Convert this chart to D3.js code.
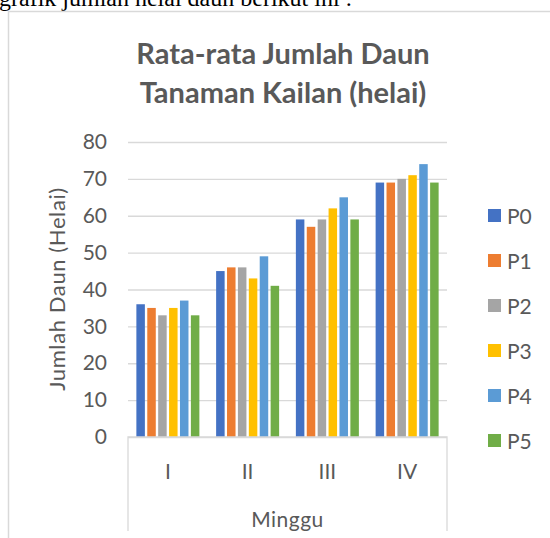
<!DOCTYPE html>
<html>
<head>
<meta charset="utf-8">
<script src="https://cdn.jsdelivr.net/npm/d3@7"></script>
<style>
  body { margin: 0; background: #fff; }
  svg { display: block; }
</style>
</head>
<body>
<div id="chart"></div>
<script>
// data
var weeks = ["I", "II", "III", "IV"];
var series = ["P0", "P1", "P2", "P3", "P4", "P5"];
var P0 = [36, 45, 59, 69];
var P1 = [35, 46, 57, 69];
var P2 = [33, 46, 59, 70];
var P3 = [35, 43, 62, 71];
var P4 = [37, 49, 65, 74];
var P5 = [33, 41, 59, 69];
var yTicks = [0, 10, 20, 30, 40, 50, 60, 70, 80];
var colors = ["#4472c4", "#ed7d31", "#a5a5a5", "#ffc000", "#5b9bd5", "#70ad47"];

var values = [P0, P1, P2, P3, P4, P5];
var font = "Lato, 'Open Sans', sans-serif";
var grey = "#595959";

var width = 550, height = 538;
var svg = d3.select("#chart")
  .append("svg")
    .attr("width", width)
    .attr("height", height);

// the line of document text cut off above the chart
svg.append("text")
  .attr("x", -1)
  .attr("y", 6)
  .style("font-family", "'Liberation Serif', 'Times New Roman', serif")
  .style("font-size", "24px")
  .style("fill", "#000")
  .text("grafik jumlah helai daun berikut ini :");

// chart frame
svg.append("path")
  .attr("d", "M8.5," + height + "V11.5H" + width)
  .attr("fill", "none")
  .attr("stroke", "#d9d9d9")
  .attr("stroke-width", 1.5);

// plot area
var plotLeft = 128, plotRight = 447, plotTop = 142, plotBottom = 437;

var y = d3.scaleLinear()
  .domain([0, 80])
  .range([plotBottom, plotTop]);

var x0 = d3.scaleBand()
  .domain(weeks)
  .range([plotLeft, plotRight])
  .paddingInner(0.21)
  .paddingOuter(0.105);

var x1 = d3.scaleBand()
  .domain(series)
  .range([0, x0.bandwidth()])
  .paddingInner(0.22);

// title
svg.append("text")
  .attr("x", 283)
  .attr("y", 64)
  .attr("text-anchor", "middle")
  .style("font-family", font)
  .style("font-size", "29px")
  .style("font-weight", "bold")
  .style("fill", grey)
  .text("Rata-rata Jumlah Daun");
svg.append("text")
  .attr("x", 283)
  .attr("y", 103)
  .attr("text-anchor", "middle")
  .style("font-family", font)
  .style("font-size", "29px")
  .style("font-weight", "bold")
  .style("fill", grey)
  .text("Tanaman Kailan (helai)");

// gridlines and y labels
var yAxis = svg.append("g")
  .attr("transform", "translate(" + plotLeft + ",0)")
  .call(d3.axisLeft(y).tickValues(yTicks).tickSize(-(plotRight - plotLeft)).tickPadding(21));
yAxis.select(".domain").remove();
yAxis.selectAll(".tick line")
  .attr("stroke", "#d9d9d9")
  .attr("stroke-width", 1.3);
yAxis.selectAll(".tick text")
  .style("font-family", font)
  .style("font-size", "21px")
  .style("fill", grey);

// y axis title
svg.append("text")
  .attr("transform", "translate(65,289) rotate(-90)")
  .attr("text-anchor", "middle")
  .style("font-family", font)
  .style("font-size", "22px")
  .style("letter-spacing", "0.6px")
  .style("fill", grey)
  .text("Jumlah Daun (Helai)");

// bars
var groups = svg.append("g")
  .selectAll("g")
  .data(weeks)
  .enter()
  .append("g")
    .attr("transform", function(d){ return "translate(" + x0(d) + ",0)"; });

groups.selectAll("rect")
  .data(function(d, i){ return series.map(function(s, j){ return { s: s, v: values[j][i], c: colors[j] }; }); })
  .enter()
  .append("rect")
    .attr("x", function(d){ return x1(d.s); })
    .attr("y", function(d){ return y(d.v); })
    .attr("width", x1.bandwidth())
    .attr("height", function(d){ return plotBottom - y(d.v); })
    .style("fill", function(d){ return d.c; });

// category axis box
svg.append("path")
  .attr("d", "M" + plotLeft + ",531V" + plotBottom + "H" + plotRight + "V531")
  .attr("fill", "none")
  .attr("stroke", "#d9d9d9")
  .attr("stroke-width", 1.3);

svg.append("g")
  .selectAll("text")
  .data(weeks)
  .enter()
  .append("text")
    .attr("x", function(d){ return x0(d) + x0.bandwidth() / 2; })
    .attr("y", 479)
    .attr("text-anchor", "middle")
    .style("font-family", font)
    .style("font-size", "21px")
    .style("fill", grey)
    .text(function(d){ return d; });

svg.append("text")
  .attr("x", (plotLeft + plotRight) / 2)
  .attr("y", 527)
  .attr("text-anchor", "middle")
  .style("font-family", font)
  .style("font-size", "21px")
  .style("letter-spacing", "0.5px")
  .style("fill", grey)
  .text("Minggu");

// legend
var legend = svg.append("g")
  .selectAll("g")
  .data(series)
  .enter()
  .append("g")
    .attr("transform", function(d, i){ return "translate(488," + (216 + i * 45) + ")"; });
legend.append("rect")
  .attr("x", 0)
  .attr("y", -7)
  .attr("width", 13)
  .attr("height", 13)
  .style("fill", function(d, i){ return colors[i]; });
legend.append("text")
  .attr("x", 19)
  .attr("y", 7.5)
  .style("font-family", font)
  .style("font-size", "21px")
  .style("fill", grey)
  .text(function(d){ return d; });
</script>
</body>
</html>
